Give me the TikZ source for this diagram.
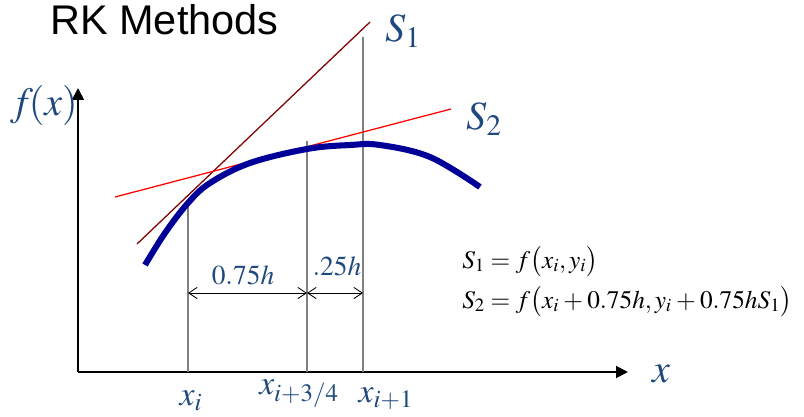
\documentclass[tikz,border=0pt]{standalone}
\usepackage{mathptmx}
\usepackage{fontspec}
\setmainfont{Liberation Serif}
\newfontfamily\titlefont{Liberation Sans}
\usetikzlibrary{arrows.meta, positioning}
\definecolor{lblblue}{RGB}{31, 73, 125}
\definecolor{curveblue}{RGB}{0, 0, 153}
\definecolor{slopeone}{RGB}{128, 0, 0}
\definecolor{guidegray}{RGB}{128, 128, 128}

\begin{document}
\begin{tikzpicture}[
        x=0.025cm, y=-0.025cm,
        axis/.style={-{Triangle[length=8.5pt, width=8.5pt]}, line width=1.3pt},
        guide/.style={draw=guidegray, line width=0.9pt},
        dim/.style={{Straight Barb[length=6pt, width=8pt]}-{Straight Barb[length=6pt, width=8pt]},
            line width=0.6pt},
        slope/.style={line width=0.9pt},
        curve/.style={draw=curveblue, line width=4.3pt},
        lbl/.style={text=lblblue, inner sep=0pt, font=\fontsize{28.5}{30}\selectfont},
        tick/.style={text=lblblue, inner sep=0pt, font=\fontsize{24}{26}\selectfont},
        dimlbl/.style={text=lblblue, inner sep=0pt, font=\fontsize{19.5}{22}\selectfont},
        eq/.style={inner sep=0pt, anchor=base west, font=\fontsize{18}{20}\selectfont}
        ]
        \useasboundingbox (0,0) rectangle (804,416);

        \node[inner sep=0pt, anchor=base west, font=\titlefont\fontsize{29.5}{31}\selectfont]
        (title) at (50,34) {RK Methods};

        % axes
        \coordinate (origin) at (78,372);
        \coordinate (ytip) at (78,88);
        \coordinate (xtip) at (628,372);
        \draw[axis] (origin) -- (ytip);
        \draw[axis] (origin) -- (xtip);
        \node[lbl] (fx) at (44,105) {$f\!(x)$};
        \node[lbl] (xlab) at (661,374) {$x$};

        % guide lines
        \coordinate (xibot) at (188,372);
        \coordinate (xmbot) at (307,372);
        \coordinate (xnbot) at (363,372);
        \coordinate (xitop) at (188,202);
        \coordinate (xmtop) at (307,141);
        \coordinate (xntop) at (363,37);
        \draw[guide] (xibot) -- (xitop);
        \draw[guide] (xmbot) -- (xmtop);
        \draw[guide] (xnbot) -- (xntop);

        % slopes
        \coordinate (sonea) at (137,244);
        \coordinate (soneb) at (370,22);
        \coordinate (stwoa) at (115,197);
        \coordinate (stwob) at (451,109);
        \draw[slope, slopeone] (sonea) -- (soneb);
        \draw[slope, red] (stwoa) -- (stwob);
        \node[lbl] (sone) at (403,31) {$S_1$};
        \node[lbl] (stwo) at (484,119) {$S_2$};

        % function
        \draw[curve] plot[smooth, tension=0.6] coordinates {
            (145,265) (165,233) (188,203) (210,183) (250,163) (307,149)
            (350,145) (380,145) (430,157) (480,187)};

        % step widths
        \coordinate (dima) at (188,293);
        \coordinate (dimb) at (307,293);
        \coordinate (dimc) at (363,293);
        \draw[dim] (dima) -- (dimb);
        \draw[dim] (dimb) -- (dimc);
        \node[dimlbl] (wbig) at (243,275) {$0.75h$};
        \node[dimlbl] (wsmall) at (337,266) {$.25h$};

        \node[tick] (lxi) at (191,401) {$x_i$};
        \node[tick] (lxm) at (299,394) {$x_{i+3/4}$};
        \node[tick] (lxn) at (386,399) {$x_{i+1}$};

        \node[eq] (eqone) at (462,268)
        {$\medmuskip=3mu \thickmuskip=4mu S_1 = f\bigl(x_i , y_i\bigr)$};
        \node[eq] (eqtwo) at ([yshift=-1cm]eqone.base west)
        {$\medmuskip=3mu \thickmuskip=4mu S_2 = f\bigl(x_i + 0.75h, y_i + 0.75hS_1\bigr)$};
    \end{tikzpicture}
\end{document}
